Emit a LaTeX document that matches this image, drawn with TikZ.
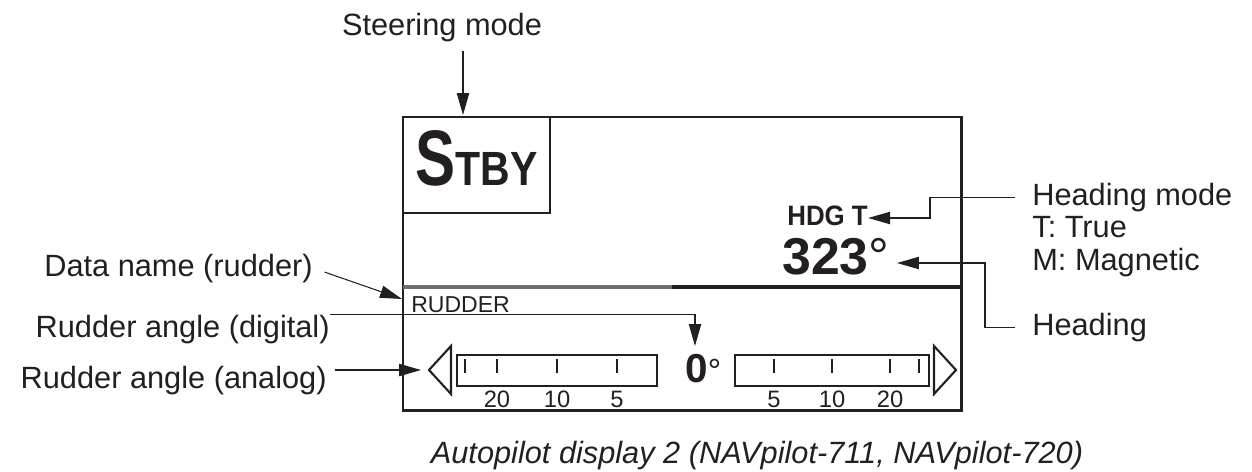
\documentclass[tikz,border=0pt]{standalone}
\usepackage{fontspec}
\setmainfont{Liberation Sans}
\usetikzlibrary{arrows.meta,positioning,calc}
\definecolor{ink}{HTML}{231F20}
\definecolor{dimgray}{HTML}{6D6E71}
\tikzset{
  lbl/.style={inner sep=0pt, text=ink, font=\fontsize{17.5}{21}\selectfont},
  lcd/.style={inner sep=0pt, text=ink},
  callout/.style={-{Triangle[length=12.5pt,width=7pt]}, line width=0.6pt, draw=ink},
  frame/.style={line width=1.7pt, draw=ink},
  gauge/.style={line width=1.4pt, draw=ink},
  tickmark/.style={line width=1.3pt, draw=ink},
  pointer/.style={line width=1.2pt, draw=ink, line join=miter}
}

\begin{document}
\begin{tikzpicture}[x=0.02cm,y=-0.02cm]
\useasboundingbox (0,0) rectangle (1252,471);
\draw[frame] (403,117) rectangle (961,410);
\draw[frame, line width=1.2pt] (403,117) rectangle (550,213);
\draw[dimgray, line width=2.3pt] (403,287) -- (672,287);
\draw[ink, line width=2.3pt] (672,287) -- (961,287);
\node[lcd, anchor=base west, font=\bfseries\fontsize{30}{30}\selectfont] (stby) at (415,185) {\resizebox{22.8pt}{31.3pt}{S}\resizebox{46.7pt}{18.8pt}{TBY}};
\node[lcd, anchor=base west, font=\bfseries\fontsize{16}{16}\selectfont] (hdg) at (787,225) {\scalebox{0.92}[1]{HDG T}};
\node[lcd, anchor=base west] (hdgval) at (782,274) {\fontsize{29.5}{30}\selectfont\bfseries 323\mdseries°};
\node[lcd, anchor=base west] (rudder) at (411,312) {\fontsize{13.1}{14}\selectfont RUDDER};
\node[lcd, anchor=base west] (zero) at (685,382) {\fontsize{23}{24}\selectfont\bfseries 0\fontsize{19}{20}\selectfont\mdseries°};
\draw[gauge] (457,355) rectangle (657,386);
\draw[gauge] (735,355) rectangle (929,386);
\foreach \x in {465,497,557,617,774,832,890,919}
  \draw[tickmark] (\x,359) -- (\x,373);
\foreach \x/\v in {497/20,557/10,617/5,774/5,832/10,890/20}
  \node[lcd, anchor=base, font=\fontsize{13.5}{14}\selectfont] at (\x,407) {\v};
\draw[pointer] (451,346) -- (429,370) -- (451,394) -- cycle;
\draw[pointer] (934,346) -- (956,370) -- (934,394) -- cycle;
\node[lbl, anchor=base] (steer) at (442,35) {Steering mode};
\node[lbl, anchor=base west] (hdgmode) at (1032,205) {Heading mode};
\node[lbl, anchor=base west] (hdgtrue) at (1032,237) {T: True};
\node[lbl, anchor=base west] (hdgmag) at (1032,270) {M: Magnetic};
\node[lbl, anchor=base west] (heading) at (1032,335) {Heading};
\node[lbl, anchor=base east] (dataname) at (313,276) {Data name (rudder)};
\node[lbl, anchor=base east] (digital) at (330,337) {Rudder angle (digital)};
\node[lbl, anchor=base east] (analog) at (327,388) {Rudder angle (analog)};
\node[lbl, anchor=base, font=\itshape\fontsize{17.5}{21}\selectfont] (caption) at (757,463) {Autopilot display 2 (NAVpilot-711, NAVpilot-720)};
\coordinate (smtip) at (463,115);
\coordinate (hdgbend) at (930,218);
\coordinate (headbend) at (985,263);
\coordinate (headtip) at (897,263);
\coordinate (dntip) at (402,299);
\coordinate (digtip) at (695,346);
\coordinate (antip) at (421,370);
\draw[callout, shorten <=5pt] (steer.south -| smtip) -- (smtip);
\draw[callout, shorten <=9.5pt] (hdgmode.west) -| (hdgbend) -- (hdgbend -| hdg.east);
\draw[callout, shorten <=9.5pt] (heading.west) -| (headbend) -- (headtip);
\draw[callout, shorten <=7pt] (dataname.east) -- (dntip);
\draw[callout] (digital.north east) -| (digtip);
\draw[callout, shorten <=4.5pt] (analog.east |- antip) -- (antip);
\end{tikzpicture}
\end{document}
